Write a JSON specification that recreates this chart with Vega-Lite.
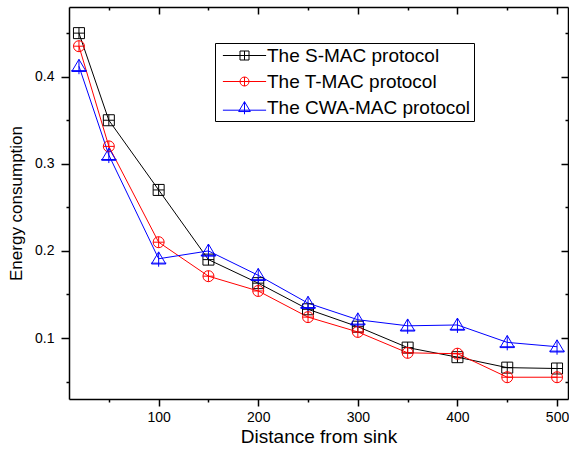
{
 "$schema": "https://vega.github.io/schema/vega-lite/v6.json",
 "width": 499, "height": 392,
 "autosize": "none",
 "padding": {"left": 69, "top": 7, "right": 1, "bottom": 52},
 "background": "white",
 "config": {
  "view": {"stroke": null},
  "font": "Liberation Sans",
  "axis": {"grid": false, "domainColor": "black", "tickColor": "black", "labelColor": "black", "titleColor": "black",
           "labelFont": "Liberation Sans", "titleFont": "Liberation Sans", "labelFontSize": 14, "titleFontSize": 19,
           "titleFontWeight": "normal", "domainWidth": 1.5, "tickWidth": 1.5, "labelOverlap": false}
 },
 "data": {"values": [
  {"protocol": "The S-MAC protocol", "distance": 20, "energy": 0.450},
  {"protocol": "The S-MAC protocol", "distance": 50, "energy": 0.350},
  {"protocol": "The S-MAC protocol", "distance": 100, "energy": 0.270},
  {"protocol": "The S-MAC protocol", "distance": 150, "energy": 0.190},
  {"protocol": "The S-MAC protocol", "distance": 200, "energy": 0.163},
  {"protocol": "The S-MAC protocol", "distance": 250, "energy": 0.133},
  {"protocol": "The S-MAC protocol", "distance": 300, "energy": 0.113},
  {"protocol": "The S-MAC protocol", "distance": 350, "energy": 0.089},
  {"protocol": "The S-MAC protocol", "distance": 400, "energy": 0.078},
  {"protocol": "The S-MAC protocol", "distance": 450, "energy": 0.066},
  {"protocol": "The S-MAC protocol", "distance": 500, "energy": 0.065},
  {"protocol": "The T-MAC protocol", "distance": 20, "energy": 0.435},
  {"protocol": "The T-MAC protocol", "distance": 50, "energy": 0.320},
  {"protocol": "The T-MAC protocol", "distance": 100, "energy": 0.210},
  {"protocol": "The T-MAC protocol", "distance": 150, "energy": 0.171},
  {"protocol": "The T-MAC protocol", "distance": 200, "energy": 0.154},
  {"protocol": "The T-MAC protocol", "distance": 250, "energy": 0.124},
  {"protocol": "The T-MAC protocol", "distance": 300, "energy": 0.107},
  {"protocol": "The T-MAC protocol", "distance": 350, "energy": 0.083},
  {"protocol": "The T-MAC protocol", "distance": 400, "energy": 0.082},
  {"protocol": "The T-MAC protocol", "distance": 450, "energy": 0.055},
  {"protocol": "The T-MAC protocol", "distance": 500, "energy": 0.055},
  {"protocol": "The CWA-MAC protocol", "distance": 20, "energy": 0.412},
  {"protocol": "The CWA-MAC protocol", "distance": 50, "energy": 0.310},
  {"protocol": "The CWA-MAC protocol", "distance": 100, "energy": 0.191},
  {"protocol": "The CWA-MAC protocol", "distance": 150, "energy": 0.200},
  {"protocol": "The CWA-MAC protocol", "distance": 200, "energy": 0.172},
  {"protocol": "The CWA-MAC protocol", "distance": 250, "energy": 0.140},
  {"protocol": "The CWA-MAC protocol", "distance": 300, "energy": 0.121},
  {"protocol": "The CWA-MAC protocol", "distance": 350, "energy": 0.114},
  {"protocol": "The CWA-MAC protocol", "distance": 400, "energy": 0.115},
  {"protocol": "The CWA-MAC protocol", "distance": 450, "energy": 0.095},
  {"protocol": "The CWA-MAC protocol", "distance": 500, "energy": 0.090}
 ]},
 "layer": [
  {
   "mark": {"type": "line", "strokeWidth": 1},
   "encoding": {
    "x": {"field": "distance", "type": "quantitative", "scale": {"domain": [10, 511], "nice": false, "zero": false},
          "axis": {"orient": "bottom", "title": "Distance from sink", "values": [50,100,150,200,250,300,350,400,450,500],
                   "format": "d", "labelExpr": "datum.value % 100 === 0 ? datum.label : ''",
                   "tickSize": {"condition": {"test": "datum.value % 100 === 0", "value": 7}, "value": 3},
                   "labelPadding": 4, "titlePadding": 3}},
    "y": {"field": "energy", "type": "quantitative", "scale": {"domain": [0.03, 0.48], "nice": false, "zero": false},
          "axis": {"orient": "left", "title": "Energy consumption", "titleFontSize": 17, "values": [0.05,0.1,0.15,0.2,0.25,0.3,0.35,0.4,0.45],
                   "format": ".1f", "labelExpr": "abs(datum.value*10 - round(datum.value*10)) < 0.001 ? datum.label : ''",
                   "tickSize": {"condition": {"test": "abs(datum.value*10 - round(datum.value*10)) < 0.001", "value": 8}, "value": 3},
                   "labelPadding": 7, "titlePadding": 9}},
    "color": {"field": "protocol", "type": "nominal",
              "scale": {"domain": ["The S-MAC protocol", "The T-MAC protocol", "The CWA-MAC protocol"], "range": ["#000000", "#ff0000", "#0000ff"]},
              "legend": null}
   }
  },
  {
   "mark": {"type": "point", "filled": false, "size": 121, "strokeWidth": 1, "opacity": 1},
   "encoding": {
    "x": {"field": "distance", "type": "quantitative",
          "axis": {"orient": "top", "title": null, "labels": false, "values": [50,100,150,200,250,300,350,400,450,500],
                   "tickSize": {"condition": {"test": "datum.value % 100 === 0", "value": -7}, "value": -3}}},
    "y": {"field": "energy", "type": "quantitative",
          "axis": {"orient": "right", "title": null, "labels": false, "values": [0.05,0.1,0.15,0.2,0.25,0.3,0.35,0.4,0.45],
                   "tickSize": {"condition": {"test": "abs(datum.value*10 - round(datum.value*10)) < 0.001", "value": -7}, "value": -3}}},
    "color": {"field": "protocol", "type": "nominal",
              "scale": {"domain": ["The S-MAC protocol", "The T-MAC protocol", "The CWA-MAC protocol"], "range": ["#000000", "#ff0000", "#0000ff"]},
              "legend": null},
    "shape": {"field": "protocol", "type": "nominal",
              "scale": {"domain": ["The S-MAC protocol", "The T-MAC protocol", "The CWA-MAC protocol"],
                        "range": ["M-1,-1H1V1H-1Z M0,-1V1 M-1,0H1",
                                  "M-1,0A1,1,0,1,0,1,0A1,1,0,1,0,-1,0Z M0,-1V1 M-1,0H1",
                                  "M0,-1.25L1.3,0.95H-1.3Z M0,-1.25V1.45 M-1.4,0.8H1.4"]},
              "legend": null}
   }
  },
  {
   "mark": {"type": "point", "filled": false, "opacity": 0},
   "encoding": {
    "x": {"field": "distance", "type": "quantitative", "axis": null},
    "y": {"field": "energy", "type": "quantitative", "axis": null},
    "color": {"field": "protocol", "type": "nominal",
              "scale": {"domain": ["The S-MAC protocol", "The T-MAC protocol", "The CWA-MAC protocol"], "range": ["#000000", "#ff0000", "#0000ff"]},
              "legend": {"orient": "none", "legendX": 146, "legendY": 36, "title": null, "strokeColor": "black", "fillColor": "white",
                         "padding": 3, "labelFont": "Liberation Sans", "labelFontSize": 19, "labelColor": "black", "labelLimit": 400,
                         "symbolSize": 81, "symbolStrokeWidth": 1, "symbolOpacity": 1, "symbolOffset": 17, "labelOffset": 13, "rowPadding": 6}},
    "shape": {"field": "protocol", "type": "nominal",
              "scale": {"domain": ["The S-MAC protocol", "The T-MAC protocol", "The CWA-MAC protocol"],
                        "range": ["M-4.8,0H4.8 M-1,-1H1V1H-1Z M0,-1V1 M-1,0H1",
                                  "M-4.8,0H4.8 M-1,0A1,1,0,1,0,1,0A1,1,0,1,0,-1,0Z M0,-1V1",
                                  "M-4.8,0.6H4.8 M0,-1.3L1.3,0.9H-1.3Z M0,-1.3V1.5"]},
              "legend": {"orient": "none", "legendX": 146, "legendY": 36, "title": null, "strokeColor": "black", "fillColor": "white",
                         "padding": 3, "labelFont": "Liberation Sans", "labelFontSize": 19, "labelColor": "black", "labelLimit": 400,
                         "symbolSize": 81, "symbolStrokeWidth": 1, "symbolOpacity": 1, "symbolOffset": 17, "labelOffset": 13, "rowPadding": 6}}
   }
  }
 ],
 "resolve": {"scale": {"color": "independent", "shape": "independent"}}
}
